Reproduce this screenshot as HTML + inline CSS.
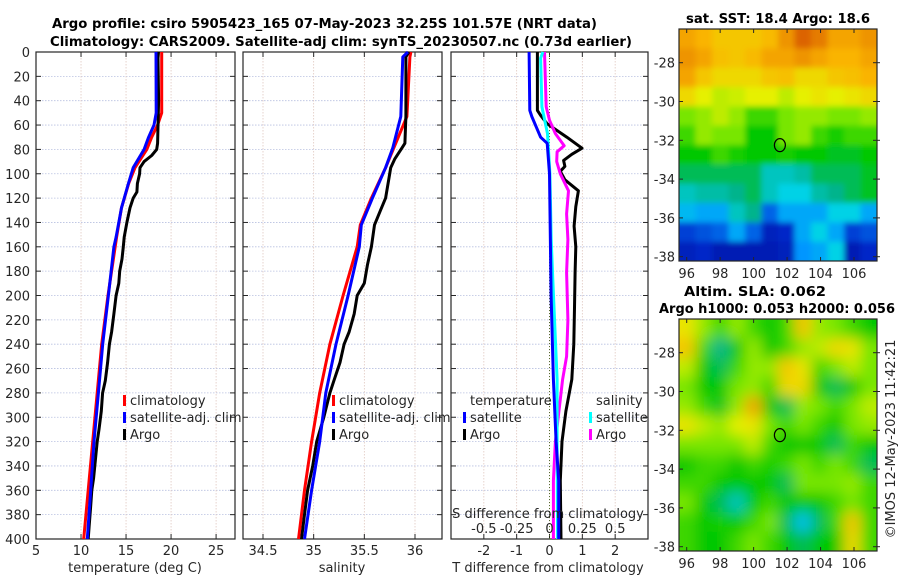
<!DOCTYPE html>
<html><head><meta charset="utf-8"><style>
body{margin:0;background:#fff}
svg{display:block;font-family:"DejaVu Sans","Liberation Sans",sans-serif}
</style></head><body>
<svg id="fig" width="900" height="580" viewBox="0 0 900 580" xmlns="http://www.w3.org/2000/svg">
<rect width="900" height="580" fill="#fff"/>
<text x="52" y="28" font-size="13" font-weight="bold" textLength="545" lengthAdjust="spacingAndGlyphs">Argo profile: csiro 5905423_165 07-May-2023 32.25S 101.57E (NRT data)</text>
<text x="50" y="46" font-size="13" font-weight="bold" textLength="582" lengthAdjust="spacingAndGlyphs">Climatology: CARS2009. Satellite-adj clim: synTS_20230507.nc (0.73d earlier)</text>
<text x="686" y="23" font-size="13" font-weight="bold" textLength="184" lengthAdjust="spacingAndGlyphs">sat. SST: 18.4 Argo: 18.6</text>
<text x="684" y="296" font-size="13" font-weight="bold" textLength="142" lengthAdjust="spacingAndGlyphs">Altim. SLA: 0.062</text>
<text x="659" y="313" font-size="13" font-weight="bold" textLength="236" lengthAdjust="spacingAndGlyphs">Argo h1000: 0.053 h2000: 0.056</text>
<text transform="translate(895,439) rotate(-90)" text-anchor="middle" font-size="13" fill="#262626">©IMOS 12-May-2023 11:42:21</text>
<g id="g"></g>
</svg>
<script>
// ---- data ----
const tDepthRed=[0,50,60,70,80,95,108,128,152,200,240,280,320,360,400];
const tempClim=[18.96,18.96,18.5,17.85,17.3,16.0,15.3,14.5,13.95,13.0,12.3,11.8,11.3,10.8,10.3];
const tDepthBlue=[0,50,60,70,80,95,108,128,152,160,200,240,280,320,360,400];
const tempSat=[18.33,18.35,18.1,17.5,17.0,15.8,15.26,14.5,13.9,13.65,13.04,12.41,11.93,11.44,11.07,10.7];
const tDepthArgo=[0,5,40,75,80,85,90,95,100,108,115,120,128,140,152,160,170,180,190,200,215,230,240,255,270,280,295,310,320,335,350,360,375,390,400];
const tempArgo=[18.6,18.55,18.62,18.5,18.4,17.85,17.0,16.55,16.5,16.26,16.2,15.8,15.44,15.1,14.8,14.7,14.55,14.3,14.2,13.9,13.65,13.4,13.15,12.95,12.7,12.4,12.25,12.0,11.8,11.6,11.4,11.2,11.05,10.9,10.8];
const sDepthRed=[0,4,53,79,95,120,142,160,200,240,280,320,360,400];
const salClim=[35.96,35.95,35.92,35.79,35.71,35.57,35.46,35.43,35.29,35.16,35.06,34.98,34.91,34.85];
const sDepthBlue=[0,4,53,79,95,120,142,160,200,240,280,320,360,400];
const salSat=[35.93,35.88,35.86,35.78,35.71,35.58,35.47,35.45,35.34,35.22,35.12,35.06,34.98,34.91];
const sDepthArgo=[0,4,53,75,79,88,95,105,120,130,142,160,175,190,200,215,230,240,255,270,280,300,320,340,360,380,400];
const salArgo=[35.94,35.91,35.91,35.9,35.87,35.8,35.76,35.74,35.71,35.66,35.6,35.57,35.53,35.5,35.43,35.4,35.35,35.3,35.26,35.2,35.16,35.1,35.03,34.99,34.94,34.91,34.88];
const dDepthTsat=[0,48,53,70,75,100,200,269,320,352,400];
const dTsat=[-0.62,-0.6,-0.54,-0.27,-0.07,0,0.05,0.12,0.2,0.28,0.28];
const dDepthTargo=[0,48,52,59,70,79,84,89,94,98,105,114,127,143,160,181,210,240,269,295,320,352,400];
const dTargo=[-0.37,-0.37,-0.27,-0.07,0.53,0.99,0.68,0.43,0.47,0.33,0.47,0.88,0.8,0.75,0.8,0.78,0.76,0.74,0.68,0.5,0.38,0.33,0.35];
const dDepthSsat=[0,5,45,67,100,154,187,269,320,400];
const dSsat=[-0.05,-0.068,-0.058,-0.015,0.003,0.013,0.025,0.058,0.058,0.062];
const dDepthSargo=[0,45,56,67,77,82,90,100,114,133,154,181,220,250,269,320,352,400];
const dSargo=[-0.038,-0.025,0,0.045,0.112,0.058,0.055,0.082,0.145,0.13,0.14,0.13,0.14,0.13,0.1,0.045,0.03,0.03];
const depthTicks=[0,20,40,60,80,100,120,140,160,180,200,220,240,260,280,300,320,340,360,380,400];
const tempTicks=[5,10,15,20,25];
const salTicks=[34.5,35,35.5,36];
const salTickLabels=["34.5","35","35.5","36"];
const dTTicks=[-2,-1,0,1,2];
const dSTicks=[-0.5,-0.25,0,0.25,0.5];
const dSTickLabels=["-0.5","-0.25","0","0.25","0.5"];
const lonTicks=[96,98,100,102,104,106];
const latTicks=[-28,-30,-32,-34,-36,-38];
const sstGrid=[
[0.8,0.78,0.75,0.75,0.75,0.77,0.82,0.88,0.85,0.8,0.8,0.82],
[0.82,0.8,0.76,0.75,0.77,0.8,0.8,0.82,0.8,0.78,0.78,0.8],
[0.8,0.75,0.72,0.72,0.72,0.75,0.76,0.72,0.72,0.75,0.76,0.78],
[0.72,0.68,0.65,0.66,0.68,0.68,0.65,0.68,0.7,0.68,0.7,0.72],
[0.6,0.62,0.65,0.62,0.55,0.55,0.6,0.62,0.62,0.6,0.6,0.62],
[0.55,0.62,0.6,0.6,0.5,0.5,0.6,0.62,0.55,0.52,0.55,0.55],
[0.5,0.5,0.55,0.52,0.5,0.5,0.52,0.5,0.5,0.48,0.48,0.5],
[0.45,0.45,0.45,0.45,0.45,0.38,0.38,0.4,0.45,0.45,0.45,0.48],
[0.38,0.4,0.4,0.42,0.45,0.38,0.35,0.35,0.4,0.42,0.45,0.48],
[0.32,0.3,0.3,0.38,0.42,0.22,0.3,0.3,0.3,0.35,0.35,0.3],
[0.18,0.2,0.22,0.3,0.22,0.12,0.15,0.3,0.35,0.3,0.18,0.2],
[0.12,0.15,0.1,0.1,0.1,0.1,0.12,0.28,0.3,0.35,0.1,0.15]];
const slaGrid=[
[0.7,0.62,0.55,0.62,0.55,0.5,0.55,0.75,0.62,0.6,0.55,0.5],
[0.75,0.55,0.42,0.5,0.62,0.5,0.55,0.62,0.65,0.72,0.7,0.6],
[0.65,0.5,0.45,0.55,0.62,0.62,0.75,0.7,0.55,0.6,0.65,0.6],
[0.6,0.5,0.5,0.6,0.62,0.55,0.72,0.72,0.5,0.45,0.5,0.6],
[0.62,0.55,0.48,0.62,0.8,0.5,0.45,0.62,0.6,0.55,0.6,0.65],
[0.7,0.65,0.62,0.68,0.7,0.6,0.55,0.6,0.55,0.5,0.6,0.62],
[0.6,0.6,0.6,0.6,0.65,0.55,0.5,0.5,0.5,0.45,0.55,0.5],
[0.5,0.55,0.55,0.5,0.55,0.52,0.55,0.6,0.55,0.6,0.55,0.45],
[0.55,0.55,0.5,0.5,0.5,0.5,0.45,0.6,0.6,0.6,0.62,0.55],
[0.6,0.5,0.45,0.38,0.5,0.55,0.5,0.5,0.5,0.55,0.6,0.55],
[0.55,0.5,0.52,0.5,0.55,0.6,0.45,0.33,0.45,0.55,0.75,0.55],
[0.55,0.5,0.5,0.55,0.6,0.55,0.5,0.45,0.5,0.5,0.72,0.55]];
const argoLon=101.57, argoLat=-32.25;

// ---- helpers ----
const NS='http://www.w3.org/2000/svg';
const root=document.getElementById('g');
function mk(tag,attrs,parent){const e=document.createElementNS(NS,tag);for(const k in attrs)e.setAttribute(k,attrs[k]);(parent||root).appendChild(e);return e;}
function txt(s,attrs,parent){const e=mk('text',attrs,parent);e.textContent=s;return e;}
const Y0=52,Y1=539;
const yD=d=>Y0+d*(Y1-Y0)/400;
function lin(d0,d1,p0,p1){return v=>p0+(v-d0)*(p1-p0)/(d1-d0);}
function frame(x0,x1,name){
  const g=mk('g',{});
  
  
  return g;
}
function gridAndAxes(g,x0,x1,xs,xticks,showYLabels){
  depthTicks.forEach(d=>{
    const l=mk('line',{x1:x0,x2:x1,y1:yD(d),y2:yD(d),stroke:'#b8c0e0','stroke-width':0.8,'stroke-dasharray':'1.5,1.5'},g);
    
    
    mk('line',{x1:x0,x2:x0+5,y1:yD(d),y2:yD(d),stroke:'#262626'},g);
    mk('line',{x1:x1-5,x2:x1,y1:yD(d),y2:yD(d),stroke:'#262626'},g);
    if(showYLabels){const t=txt(String(d),{x:30,y:yD(d)+5,'text-anchor':'end','font-size':13,fill:'#262626'},g);
      }
  });
  xticks.forEach(v=>{
    const x=xs(v);
    mk('line',{x1:x,x2:x,y1:Y0,y2:Y1,stroke:'#e0c8c0','stroke-width':0.8,'stroke-dasharray':'1.5,1.5'},g);
    mk('line',{x1:x,x2:x,y1:Y0,y2:Y0+5,stroke:'#262626'},g);
    mk('line',{x1:x,x2:x,y1:Y1-5,y2:Y1,stroke:'#262626'},g);
  });
  mk('rect',{x:x0,y:Y0,width:x1-x0,height:Y1-Y0,fill:'none',stroke:'#262626','stroke-width':1.2},g);
}
function line(g,xs,depths,vals,color,w,name){
  const pts=vals.map((v,i)=>xs(v).toFixed(1)+','+yD(depths[i]).toFixed(1)).join(' ');
  const p=mk('polyline',{points:pts,fill:'none',stroke:color,'stroke-width':w,'stroke-linejoin':'round'},g);
  
  
}
function legend(g,x,y,items){
  items.forEach((it,i)=>{
    mk('rect',{x:x,y:y+i*17-10,width:3,height:11,fill:it[1]},g);
    const t=txt(it[0],{x:x+7,y:y+i*17,'font-size':13,fill:'#262626'},g);
    
    
  });
}

// ---- panel 1: temperature ----
(function(){
  const x0=36,x1=235,xs=lin(5,27.1,x0,x1);
  const g=frame(x0,x1,'temperature-panel');
  gridAndAxes(g,x0,x1,xs,tempTicks,true);
  tempTicks.forEach(v=>{const t=txt(String(v),{x:xs(v),y:555,'text-anchor':'middle','font-size':13,fill:'#262626'},g);
    });
  const tl=txt('temperature (deg C)',{x:135,y:572,'text-anchor':'middle','font-size':13,fill:'#262626'},g);
  
  line(g,xs,tDepthRed,tempClim,'#ff0000',3,'temp-climatology-line');
  line(g,xs,tDepthArgo,tempArgo,'#000',3,'temp-argo-line');
  line(g,xs,tDepthBlue,tempSat,'#0000ff',3,'temp-satellite-line');
  legend(g,123,405,[['climatology','#ff0000'],['satellite-adj. clim','#0000ff'],['Argo','#000']]);
})();
// ---- panel 2: salinity ----
(function(){
  const x0=243,x1=442,xs=lin(34.5,36,263,415);
  const g=frame(x0,x1,'salinity-panel');
  gridAndAxes(g,x0,x1,xs,salTicks,false);
  salTicks.forEach((v,i)=>{const t=txt(salTickLabels[i],{x:xs(v),y:555,'text-anchor':'middle','font-size':13,fill:'#262626'},g);
    });
  const tl=txt('salinity',{x:342,y:572,'text-anchor':'middle','font-size':13,fill:'#262626'},g);
  
  line(g,xs,sDepthRed,salClim,'#ff0000',3,'sal-climatology-line');
  line(g,xs,sDepthArgo,salArgo,'#000',3,'sal-argo-line');
  line(g,xs,sDepthBlue,salSat,'#0000ff',3,'sal-satellite-line');
  legend(g,332,405,[['climatology','#ff0000'],['satellite-adj. clim','#0000ff'],['Argo','#000']]);
})();
// ---- panel 3: differences ----
(function(){
  const x0=451,x1=648,xs=lin(-3,3,x0,x1),ss=v=>xs(v*4);
  const g=frame(x0,x1,'difference-panel');
  gridAndAxes(g,x0,x1,xs,dTTicks,false);
  mk('line',{x1:xs(0),x2:xs(0),y1:Y0,y2:Y1,stroke:'#556b2f','stroke-width':1,'stroke-dasharray':'1,2'},g);
  dTTicks.forEach(v=>{const t=txt(String(v),{x:xs(v),y:555,'text-anchor':'middle','font-size':13,fill:'#262626'},g);
    });
  const tl=txt('T difference from climatology',{x:548,y:572,'text-anchor':'middle','font-size':13,fill:'#262626'},g);
  
  line(g,xs,dDepthTargo,dTargo,'#000',3,'t-diff-argo-line');
  line(g,ss,dDepthSargo,dSargo,'#ff00ff',3,'s-diff-argo-line');
  line(g,ss,dDepthSsat,dSsat,'#00ffff',3,'s-diff-satellite-line');
  line(g,xs,dDepthTsat,dTsat,'#0000ff',3,'t-diff-satellite-line');
  dSTicks.forEach((v,i)=>{const t=txt(dSTickLabels[i],{x:ss(v),y:533,'text-anchor':'middle','font-size':13,fill:'#262626'},g);
    });
  const st=txt('S difference from climatology',{x:548,y:518,'text-anchor':'middle','font-size':13,fill:'#262626'},g);
  
  const lt=txt('temperature',{x:470,y:405,'font-size':13,fill:'#262626'},g);
  
  legend(g,463,422,[['satellite','#0000ff'],['Argo','#000']]);
  const ls=txt('salinity',{x:596,y:405,'font-size':13,fill:'#262626'},g);
  
  legend(g,589,422,[['satellite','#00ffff'],['Argo','#ff00ff']]);
})();
// ---- maps ----
const cmapStops=[[0,0,0,140],[0.15,0,40,200],[0.28,0,150,255],[0.35,0,210,230],[0.42,0,180,140],[0.5,0,200,0],[0.6,120,230,0],[0.68,230,240,0],[0.78,250,180,0],[0.88,220,100,0],[1,180,40,0]];
function cmap(v){
  v=Math.max(0,Math.min(1,v));
  for(let i=1;i<cmapStops.length;i++){
    const a=cmapStops[i-1],b=cmapStops[i];
    if(v<=b[0]){const t=(v-a[0])/(b[0]-a[0]);
      return 'rgb('+[1,2,3].map(k=>Math.round(a[k]+t*(b[k]-a[k]))).join(',')+')';}
  }
  return 'rgb(180,40,0)';
}
function map(grid,x0,y0,x1,y1,latAt28,latStep,name,blur){
  const g=frame(x0,x1,name);
  const id='clip'+name;
  const defs=mk('defs',{},g);
  const cp=mk('clipPath',{id:id},defs);
  mk('rect',{x:x0,y:y0,width:x1-x0,height:y1-y0},cp);
  const f=mk('filter',{id:'bl'+name,x:'-10%',y:'-10%',width:'120%',height:'120%'},defs);mk('feGaussianBlur',{stdDeviation:blur},f);
  const cg=mk('g',{'clip-path':'url(#'+id+')'},g);
  const inner=mk('g',{filter:'url(#bl'+name+')'},cg);
  const rows=grid.length,cols=grid[0].length,cw=(x1-x0)/cols,ch=(y1-y0)/rows;
  const pad=14;
  grid.forEach((row,i)=>row.forEach((v,j)=>{
    const c=mk('rect',{x:x0+j*cw-(j==0?pad:0),y:y0+i*ch-(i==0?pad:0),width:cw+0.6+(j==0||j==cols-1?pad:0),height:ch+0.6+(i==0||i==rows-1?pad:0),fill:cmap(v)},inner);
    
    
  }));
  const lx=lin(96,106,686.7,854);
  const ly=v=>latAt28+(-28-v)/2*latStep;
  lonTicks.forEach(v=>{
    mk('line',{x1:lx(v),x2:lx(v),y1:y1,y2:y1-4,stroke:'#262626'},g);
    mk('line',{x1:lx(v),x2:lx(v),y1:y0,y2:y0+4,stroke:'#262626'},g);
    const t=txt(String(v),{x:lx(v),y:y1+17,'text-anchor':'middle','font-size':13,fill:'#262626'},g);
    
  });
  latTicks.forEach(v=>{
    mk('line',{x1:x1-4,x2:x1+3,y1:ly(v),y2:ly(v),stroke:'#262626'},g);
    mk('line',{x1:x0,x2:x0+4,y1:ly(v),y2:ly(v),stroke:'#262626'},g);
    const t=txt(String(v),{x:x0-4,y:ly(v)+5,'text-anchor':'end','font-size':13,fill:'#262626'},g);
    
  });
  mk('rect',{x:x0,y:y0,width:x1-x0,height:y1-y0,fill:'none',stroke:'#262626','stroke-width':1.2},g);
  const c=mk('ellipse',{cx:lx(argoLon),cy:ly(argoLat),rx:5.5,ry:6.5,fill:'none',stroke:'#000','stroke-width':1.2},g);
  
  
}
map(sstGrid,679,29,877,261,62.7,38.8,'sst-map',3);
map(slaGrid,679,319,877,551,352.7,38.8,'sla-map',7);
</script>
</body></html>
